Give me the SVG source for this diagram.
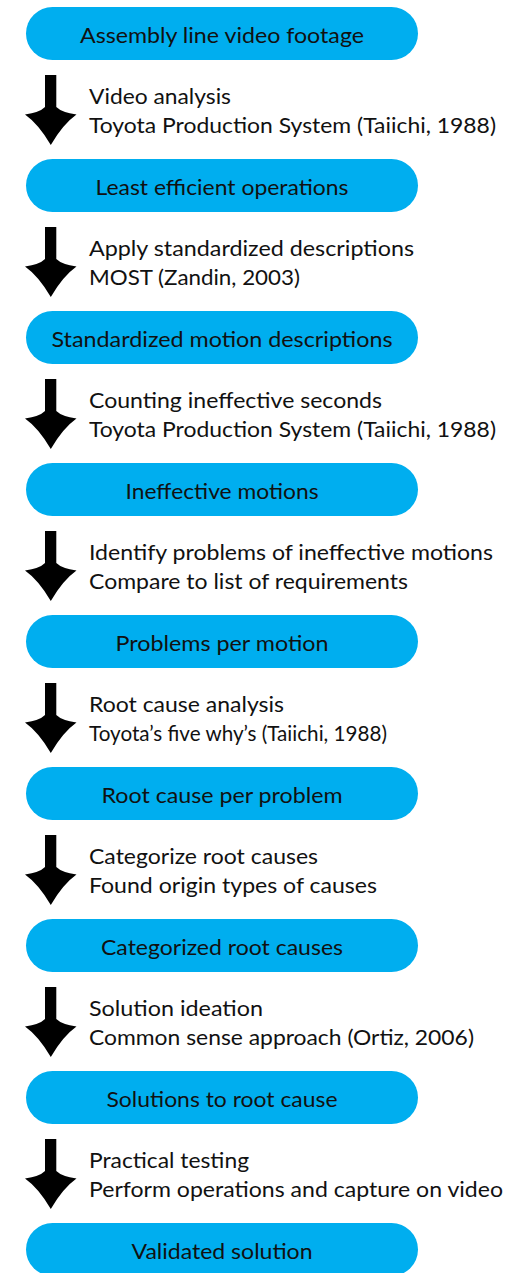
<svg xmlns="http://www.w3.org/2000/svg" xmlns:xlink="http://www.w3.org/1999/xlink" width="517" height="1273" viewBox="0 0 517 1273">
  <style>
    .pill { fill: #00AEEF; }
    .ntext { font-family: Lato, "Open Sans", "Liberation Sans", sans-serif; font-size: 22px; fill: #111; text-anchor: middle; }
    .ltext { font-family: Lato, "Open Sans", "Liberation Sans", sans-serif; font-size: 22px; fill: #111; }
    .arrow { fill: #000; }
  </style>
  <defs>
    <!-- downward arrow with swept-back head -->
    <path id="down-arrow" class="arrow" d="M45 75 H56.3 V107 Q62 112.5 76.5 114.5 Q63 124 50.8 145 Q38.5 124 25 114.5 Q39.5 112.5 45 107 Z"/>
  </defs>
  <rect width="517" height="1273" fill="#fff"/>

  <g id="connectors">
    <g id="step-1">
      <use xlink:href="#down-arrow" href="#down-arrow"/>
      <text class="ltext" x="89" y="103.5" textLength="142" lengthAdjust="spacingAndGlyphs">Video analysis</text>
      <text class="ltext" x="89" y="132.5" textLength="407" lengthAdjust="spacingAndGlyphs">Toyota Production System (Taiichi, 1988)</text>
    </g>
    <g id="step-2" transform="translate(0,152)">
      <use xlink:href="#down-arrow" href="#down-arrow"/>
      <text class="ltext" x="89" y="103.5" textLength="325" lengthAdjust="spacingAndGlyphs">Apply standardized descriptions</text>
      <text class="ltext" x="89" y="132.5" textLength="211" lengthAdjust="spacingAndGlyphs">MOST (Zandin, 2003)</text>
    </g>
    <g id="step-3" transform="translate(0,304)">
      <use xlink:href="#down-arrow" href="#down-arrow"/>
      <text class="ltext" x="89" y="103.5" textLength="293" lengthAdjust="spacingAndGlyphs">Counting ineffective seconds</text>
      <text class="ltext" x="89" y="132.5" textLength="407" lengthAdjust="spacingAndGlyphs">Toyota Production System (Taiichi, 1988)</text>
    </g>
    <g id="step-4" transform="translate(0,456)">
      <use xlink:href="#down-arrow" href="#down-arrow"/>
      <text class="ltext" x="89" y="103.5" textLength="404" lengthAdjust="spacingAndGlyphs">Identify problems of ineffective motions</text>
      <text class="ltext" x="89" y="132.5" textLength="319" lengthAdjust="spacingAndGlyphs">Compare to list of requirements</text>
    </g>
    <g id="step-5" transform="translate(0,608)">
      <use xlink:href="#down-arrow" href="#down-arrow"/>
      <text class="ltext" x="89" y="103.5" textLength="195" lengthAdjust="spacingAndGlyphs">Root cause analysis</text>
      <text class="ltext" x="89" y="132.5" textLength="298" lengthAdjust="spacingAndGlyphs">Toyota’s five why’s (Taiichi, 1988)</text>
    </g>
    <g id="step-6" transform="translate(0,760)">
      <use xlink:href="#down-arrow" href="#down-arrow"/>
      <text class="ltext" x="89" y="103.5" textLength="229" lengthAdjust="spacingAndGlyphs">Categorize root causes</text>
      <text class="ltext" x="89" y="132.5" textLength="288" lengthAdjust="spacingAndGlyphs">Found origin types of causes</text>
    </g>
    <g id="step-7" transform="translate(0,912)">
      <use xlink:href="#down-arrow" href="#down-arrow"/>
      <text class="ltext" x="89" y="103.5" textLength="174" lengthAdjust="spacingAndGlyphs">Solution ideation</text>
      <text class="ltext" x="89" y="132.5" textLength="385" lengthAdjust="spacingAndGlyphs">Common sense approach (Ortiz, 2006)</text>
    </g>
    <g id="step-8" transform="translate(0,1064)">
      <use xlink:href="#down-arrow" href="#down-arrow"/>
      <text class="ltext" x="89" y="103.5" textLength="160" lengthAdjust="spacingAndGlyphs">Practical testing</text>
      <text class="ltext" x="89" y="132.5" textLength="414" lengthAdjust="spacingAndGlyphs">Perform operations and capture on video</text>
    </g>
  </g>

  <g id="node-1">
    <rect class="pill" x="26" y="7" width="392" height="53" rx="26.5"/>
    <text class="ntext" x="222" y="42.5" textLength="284" lengthAdjust="spacingAndGlyphs">Assembly line video footage</text>
  </g>
  <g id="node-2">
    <rect class="pill" x="26" y="159" width="392" height="53" rx="26.5"/>
    <text class="ntext" x="222" y="194.5" textLength="253" lengthAdjust="spacingAndGlyphs">Least efficient operations</text>
  </g>
  <g id="node-3">
    <rect class="pill" x="26" y="311" width="392" height="53" rx="26.5"/>
    <text class="ntext" x="222" y="346.5" textLength="341" lengthAdjust="spacingAndGlyphs">Standardized motion descriptions</text>
  </g>
  <g id="node-4">
    <rect class="pill" x="26" y="463" width="392" height="53" rx="26.5"/>
    <text class="ntext" x="222" y="498.5" textLength="193" lengthAdjust="spacingAndGlyphs">Ineffective motions</text>
  </g>
  <g id="node-5">
    <rect class="pill" x="26" y="615" width="392" height="53" rx="26.5"/>
    <text class="ntext" x="222" y="650.5" textLength="213" lengthAdjust="spacingAndGlyphs">Problems per motion</text>
  </g>
  <g id="node-6">
    <rect class="pill" x="26" y="767" width="392" height="53" rx="26.5"/>
    <text class="ntext" x="222" y="802.5" textLength="241" lengthAdjust="spacingAndGlyphs">Root cause per problem</text>
  </g>
  <g id="node-7">
    <rect class="pill" x="26" y="919" width="392" height="53" rx="26.5"/>
    <text class="ntext" x="222" y="954.5" textLength="242" lengthAdjust="spacingAndGlyphs">Categorized root causes</text>
  </g>
  <g id="node-8">
    <rect class="pill" x="26" y="1071" width="392" height="53" rx="26.5"/>
    <text class="ntext" x="222" y="1106.5" textLength="231" lengthAdjust="spacingAndGlyphs">Solutions to root cause</text>
  </g>
  <g id="node-9">
    <rect class="pill" x="26" y="1223" width="392" height="53" rx="26.5"/>
    <text class="ntext" x="222" y="1258.5" textLength="181" lengthAdjust="spacingAndGlyphs">Validated solution</text>
  </g>
</svg>
